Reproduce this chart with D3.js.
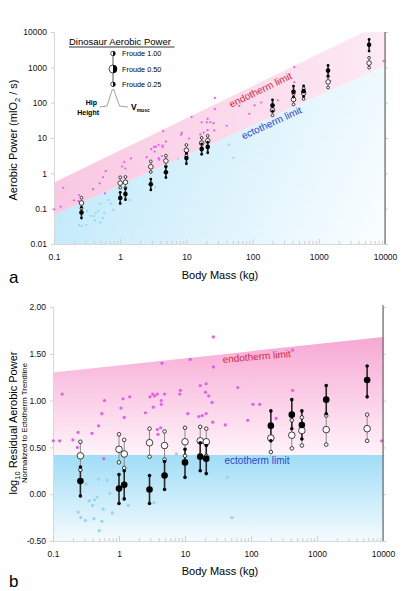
<!DOCTYPE html>
<html><head><meta charset="utf-8">
<script src="https://cdn.jsdelivr.net/npm/d3@7"></script>
<style>body{margin:0;background:#fff}svg{display:block;font-family:"Liberation Sans",Arial,sans-serif}</style>
</head><body><svg id="c" width="403" height="591"></svg>
<script>
// ---------- DATA ----------
const massTicks = [0.1, 1, 10, 100, 1000, 10000];
const massTickLabels = ["0.1", "1", "10", "100", "1000", "10000"];
const powerTicks = [0.01, 0.1, 1, 10, 100, 1000, 10000];
const powerTickLabels = ["0.01", "0.1", "1", "10", "100", "1000", "10000"];
const residTicks = [2, 1.5, 1, 0.5, 0, -0.5];
const residTickLabels = ["2.00", "1.50", "1.00", "0.50", "0.00", "-0.50"];

// dinosaur body masses (kg)
const dinoMass = [0.26, 1.0, 1.2, 2.9, 4.9, 10, 17, 21, 200, 415, 590, 1380, 5750];
// panel a: aerobic power (mlO2/s) [Froude 1.00, 0.50, 0.25]
const hipPowerA = [[0.204,0.145,0.102],[0.77,0.53,0.39],[0.79,0.56,0.39],[2.17,1.53,1.09],[3.16,2.24,1.58],[6.34,4.49,3.18],[10.1,7.18,5.08],[11.5,8.36,5.92],[86.9,61.5,43.6],[177,123,89],[255,185,128],[547,387,268],[1866,1321,980]];
const muscPowerA = [[0.110,0.078,0.054],[0.29,0.20,0.14],[0.37,0.26,0.18],[0.69,0.49,0.34],[1.51,1.07,0.76],[3.73,2.70,1.87],[6.86,4.85,3.44],[7.62,5.52,3.82],[120,83,57.4],[294,204,144],[299,212,150],[1143,809,573],[6180,4375,2890]];
// panel b: log10 residual [Froude 1.00, 0.50, 0.25]
const hipResidB = [[0.56,0.41,0.26],[0.64,0.48,0.34],[0.58,0.43,0.28],[0.70,0.55,0.40],[0.67,0.52,0.37],[0.71,0.56,0.41],[0.72,0.57,0.42],[0.70,0.56,0.41],[0.75,0.60,0.45],[0.79,0.63,0.49],[0.82,0.68,0.52],[0.84,0.69,0.53],[0.85,0.70,0.57]];
const muscResidB = [[0.29,0.14,-0.02],[0.21,0.06,-0.10],[0.25,0.10,-0.05],[0.20,0.05,-0.10],[0.35,0.20,0.05],[0.48,0.34,0.18],[0.55,0.40,0.25],[0.52,0.38,0.22],[0.89,0.73,0.57],[1.01,0.85,0.70],[0.89,0.74,0.59],[1.16,1.01,0.86],[1.37,1.22,1.04]];

// endotherm species
const endoMass = [0.101,0.126,0.138,0.200,0.240,0.234,0.389,0.490,0.550,0.603,0.589,1.07,1.15,1.20,1.45,2.51,2.95,3.24,3.47,3.80,3.31,3.80,3.89,4.27,4.37,4.37,4.47,4.90,8.32,8.51,11.0,12.0,16.2,18.2,20.9,17.0,20.9,20.4,22.9,25.7,26.3,26.9,26.9,40.7,63.1,107,135,89.1,240,427,427,1480,9550];
const endoPowerA = [0.095,0.114,0.391,0.173,0.243,0.164,0.356,0.520,0.774,1.15,0.272,1.56,2.08,1.37,2.65,2.86,4.84,5.60,5.68,6.43,4.14,2.68,2.43,3.09,6.14,5.60,15.7,7.94,12.4,13.9,9.68,39.8,12.6,14.2,16.7,27.9,34.8,27.8,27.9,26.2,16.4,136,65.3,22.2,80.7,83.4,101,48.3,117,378,1019,410,1503];
const endoResidB = [0.57,0.57,1.07,0.58,0.66,0.50,0.65,0.73,0.86,1.00,0.38,0.92,1.02,0.82,1.04,0.87,1.04,1.07,1.05,1.07,0.93,0.69,0.64,0.71,1.00,0.96,1.40,1.07,1.07,1.11,0.86,1.44,0.83,0.84,0.86,1.16,1.18,1.09,1.05,0.98,0.77,1.68,1.36,0.74,1.14,0.96,0.96,0.79,0.81,1.11,1.54,0.69,0.57];
// ectotherm species
const ectoMass = [0.240,0.263,0.309,0.316,0.355,0.398,0.427,0.417,0.468,0.490,0.501,0.550,0.575,0.661,0.724,0.794,1.38,3.39,7.41,43.7,51.3];
const ectoPowerA = [0.0343,0.0322,0.0345,0.0863,0.0628,0.0617,0.0752,0.0465,0.0869,0.140,0.0403,0.0548,0.0767,0.176,0.138,0.0920,0.176,0.403,2.58,6.49,2.76];
const ectoResidB = [-0.19,-0.25,-0.28,0.11,-0.07,-0.12,-0.06,-0.26,-0.03,0.16,-0.39,-0.29,-0.16,0.15,0.01,-0.20,-0.12,-0.09,0.43,0.18,-0.25];

// limit lines (end points)
const limitMass = [0.1, 10000];
const endoLimitA = [0.55, 19500];
const ectoLimitA = [0.0667, 1107];
const endoLimitB = [1.30, 1.68];
const ectoLimitB = [0.42, 0.42];

const froudeLabels = ["Froude 1.00", "Froude 0.50", "Froude 0.25"];

// ---------- DRAW ----------
const svg = d3.select("#c");
const defs = svg.append("defs");
const PINK = "#e25fe6", BLUE = "#93d5f2";

function grad(id, x1, y1, x2, y2, c1, c2) {
  const g = defs.append("linearGradient").attr("id", id).attr("gradientUnits", "userSpaceOnUse")
    .attr("x1", x1).attr("y1", y1).attr("x2", x2).attr("y2", y2);
  g.append("stop").attr("offset", 0).attr("stop-color", c1);
  g.append("stop").attr("offset", 1).attr("stop-color", c2);
}
grad("pinkA", 54, 0, 385, 0, "#f9c8e2", "#fdeaf4");
grad("blueA", 54, 150, 385, 300, "#bfe9fa", "#ffffff");
grad("pinkB", 0, 337, 0, 455, "#f7a8d4", "#fff3f9");
grad("blueB", 0, 455, 0, 541, "#a0ddf7", "#f4fbfe");

function dinoStacks(g, xs, ys, masses, hip, musc, rBig, rSmall) {
  masses.forEach((m, i) => {
    const x = xs(m);
    g.append("line").attr("x1", x).attr("x2", x).attr("y1", ys(hip[i][0])).attr("y2", ys(hip[i][2]))
      .attr("stroke", "#8a8a8a").attr("stroke-width", 1);
    g.append("line").attr("x1", x).attr("x2", x).attr("y1", ys(musc[i][0])).attr("y2", ys(musc[i][2]))
      .attr("stroke", "#2a2a2a").attr("stroke-width", 1.6);
    hip[i].forEach((v, k) => g.append("circle").attr("cx", x).attr("cy", ys(v)).attr("r", k === 1 ? rBig : rSmall)
      .attr("fill", "#fff").attr("stroke", "#111").attr("stroke-width", 0.8));
    musc[i].forEach((v, k) => g.append("circle").attr("cx", x).attr("cy", ys(v)).attr("r", k === 1 ? rBig : rSmall)
      .attr("fill", "#000"));
  });
}

function logMinor(lo, hi) {
  const out = [];
  for (let e = Math.log10(lo); e < Math.log10(hi); e++)
    for (let k = 2; k <= 9; k++) out.push(k * Math.pow(10, e));
  return out;
}

// ===== PANEL A =====
const xA = d3.scaleLog().domain([0.1, 10000]).range([54, 385]);
const yA = d3.scaleLog().domain([0.01, 10000]).range([244, 32]);
defs.append("clipPath").attr("id", "clipA").append("rect").attr("x", 54).attr("y", 32).attr("width", 331).attr("height", 212);
const gA = svg.append("g");
const bandA = gA.append("g").attr("clip-path", "url(#clipA)");
const idx = [0, 1];
bandA.append("path").datum(idx).attr("fill", "url(#blueA)")
  .attr("d", d3.area().x(i => xA(limitMass[i])).y0(244).y1(i => yA(ectoLimitA[i])));
bandA.append("path").datum(idx).attr("fill", "url(#pinkA)")
  .attr("d", d3.area().x(i => xA(limitMass[i])).y0(i => yA(ectoLimitA[i])).y1(i => yA(endoLimitA[i])));

// axes A
gA.append("g").attr("transform", "translate(54,0)")
  .call(d3.axisLeft(yA).tickValues(powerTicks).tickFormat((d, i) => powerTickLabels[i]).tickSize(3).tickPadding(4));
gA.append("g").attr("transform", "translate(0,244)")
  .call(d3.axisBottom(xA).tickValues(massTicks).tickFormat((d, i) => massTickLabels[i]).tickSize(-5).tickPadding(10));
gA.append("g").attr("transform", "translate(0,244)")
  .call(d3.axisBottom(xA).tickValues(logMinor(0.1, 10000)).tickFormat("").tickSize(-3))
  .call(g => g.select(".domain").remove());
gA.append("g").attr("transform", "translate(385,0)")
  .call(d3.axisRight(yA).tickValues(powerTicks).tickFormat("").tickSize(3));

// scatter A
gA.append("g").selectAll("circle").data(ectoMass).join("circle")
  .attr("cx", d => xA(d)).attr("cy", (d, i) => yA(ectoPowerA[i])).attr("r", 1.1).attr("fill", BLUE);
gA.append("g").selectAll("circle").data(endoMass).join("circle")
  .attr("cx", d => xA(d)).attr("cy", (d, i) => yA(endoPowerA[i])).attr("r", 1.1).attr("fill", PINK);

dinoStacks(gA.append("g"), xA, yA, dinoMass, hipPowerA, muscPowerA, 2.3, 1.4);

// right frame line A
gA.append("line").attr("x1", 385).attr("x2", 385).attr("y1", 32).attr("y2", 244).attr("stroke", "#555").attr("stroke-width", 1);

// limit labels A
gA.append("text").attr("transform", "translate(262,93) rotate(-25.5)").attr("text-anchor", "middle")
  .attr("font-size", 10).attr("fill", "#dd1f3c").text("endotherm limit");
gA.append("text").attr("transform", "translate(273,126) rotate(-24.5)").attr("text-anchor", "middle")
  .attr("font-size", 10).attr("fill", "#2f45d6").text("ectotherm limit");

// titles A
gA.append("text").attr("x", 220).attr("y", 279).attr("text-anchor", "middle").attr("font-size", 11).text("Body Mass (kg)");
const ylA = gA.append("text").attr("transform", "translate(17,140) rotate(-90)").attr("text-anchor", "middle").attr("font-size", 11);
ylA.append("tspan").text("Aerobic Power (mlO");
ylA.append("tspan").attr("font-size", 7.5).attr("dy", 3).text("2");
ylA.append("tspan").attr("dy", -3).text(" / s)");
gA.append("text").attr("x", 9).attr("y", 283).attr("font-size", 17).text("a");

// legend A
const lg = gA.append("g");
lg.append("text").attr("x", 69).attr("y", 45).attr("font-size", 9.5).text("Dinosaur Aerobic Power");
lg.append("line").attr("x1", 69).attr("x2", 174.5).attr("y1", 47).attr("y2", 47).attr("stroke", "#000").attr("stroke-width", 0.8);
lg.append("line").attr("x1", 113).attr("x2", 113).attr("y1", 51).attr("y2", 87).attr("stroke", "#999").attr("stroke-width", 1.6);
const legY = [53.5, 69, 84.3];
function halfCircle(x, y, r) {
  lg.append("circle").attr("cx", x).attr("cy", y).attr("r", r).attr("fill", "#fff").attr("stroke", "#111").attr("stroke-width", 0.7);
  lg.append("path").attr("d", `M${x},${y - r} A${r},${r} 0 0 1 ${x},${y + r} Z`).attr("fill", "#000");
}
legY.forEach((y, k) => {
  halfCircle(113, y, k === 1 ? 4 : 2.3);
  lg.append("text").attr("x", 122).attr("y", y + 2.6).attr("font-size", 7.3).text(froudeLabels[k]);
});
lg.append("path").attr("d", "M112.5,89 L107,106 L99.5,107").attr("fill", "none").attr("stroke", "#777").attr("stroke-width", 0.7);
lg.append("path").attr("d", "M113.5,89 L119.5,106 L128,107").attr("fill", "none").attr("stroke", "#777").attr("stroke-width", 0.7);
lg.append("text").attr("x", 97).attr("y", 105).attr("text-anchor", "end").attr("font-size", 7).attr("font-weight", "bold").text("Hip");
lg.append("text").attr("x", 99).attr("y", 115).attr("text-anchor", "end").attr("font-size", 7).attr("font-weight", "bold").text("Height");
const vm = lg.append("text").attr("x", 131).attr("y", 110).attr("font-size", 8.5).attr("font-weight", "bold");
vm.append("tspan").text("V");
vm.append("tspan").attr("font-size", 5).attr("dy", 1.5).text("musc");

// ===== PANEL B =====
const xB = d3.scaleLog().domain([0.1, 10000]).range([53, 383]);
const yB = d3.scaleLinear().domain([-0.5, 2]).range([541, 307]);
const gB = svg.append("g");
gB.append("path").datum(idx).attr("fill", "url(#blueB)")
  .attr("d", d3.area().x(i => xB(limitMass[i])).y0(yB(-0.5)).y1(i => yB(ectoLimitB[i])));
gB.append("path").datum(idx).attr("fill", "url(#pinkB)")
  .attr("d", d3.area().x(i => xB(limitMass[i])).y0(i => yB(ectoLimitB[i])).y1(i => yB(endoLimitB[i])));

gB.append("g").attr("transform", "translate(53,0)")
  .call(d3.axisLeft(yB).tickValues(residTicks).tickFormat((d, i) => residTickLabels[i]).tickSize(3).tickPadding(4));
gB.append("g").attr("transform", "translate(0,541)")
  .call(d3.axisBottom(xB).tickValues(massTicks).tickFormat((d, i) => massTickLabels[i]).tickSize(-5).tickPadding(10));
gB.append("g").attr("transform", "translate(0,541)")
  .call(d3.axisBottom(xB).tickValues(logMinor(0.1, 10000)).tickFormat("").tickSize(-3))
  .call(g => g.select(".domain").remove());
gB.append("g").attr("transform", "translate(383,0)")
  .call(d3.axisRight(yB).tickValues(residTicks).tickFormat("").tickSize(3));

gB.append("g").selectAll("circle").data(ectoMass).join("circle")
  .attr("cx", d => xB(d)).attr("cy", (d, i) => yB(ectoResidB[i])).attr("r", 1.6).attr("fill", BLUE);
gB.append("g").selectAll("circle").data(endoMass).join("circle")
  .attr("cx", d => xB(d)).attr("cy", (d, i) => yB(endoResidB[i])).attr("r", 1.6).attr("fill", PINK);

dinoStacks(gB.append("g"), xB, yB, dinoMass, hipResidB, muscResidB, 3.3, 1.8);

gB.append("line").attr("x1", 383).attr("x2", 383).attr("y1", 305).attr("y2", 541).attr("stroke", "#555").attr("stroke-width", 1);

gB.append("text").attr("transform", "translate(257,360) rotate(-5)").attr("text-anchor", "middle")
  .attr("font-size", 10).attr("fill", "#dd1f3c").text("endotherm limit");
gB.append("text").attr("x", 257).attr("y", 464).attr("text-anchor", "middle")
  .attr("font-size", 10).attr("fill", "#2f45d6").text("ectotherm limit");

gB.append("text").attr("x", 220).attr("y", 575).attr("text-anchor", "middle").attr("font-size", 11).text("Body Mass (kg)");
const ylB = gB.append("text").attr("transform", "translate(17,423) rotate(-90)").attr("text-anchor", "middle").attr("font-size", 11);
ylB.append("tspan").text("log");
ylB.append("tspan").attr("font-size", 7.5).attr("dy", 3).text("10");
ylB.append("tspan").attr("dy", -3).text(" Residual Aerobic Power");
gB.append("text").attr("transform", "translate(27,423) rotate(-90)").attr("text-anchor", "middle").attr("font-size", 7.8)
  .text("Normalized to Ectotherm Trendline");
gB.append("text").attr("x", 9).attr("y", 587).attr("font-size", 17).text("b");

// axis styling
svg.selectAll(".domain").attr("stroke", "#d8d8d8");
svg.selectAll(".tick line").attr("stroke", "#cfcfcf");
svg.selectAll(".tick text").attr("font-size", 8.5).attr("fill", "#111").attr("font-family", "Liberation Sans, Arial, sans-serif");
</script></body></html>
